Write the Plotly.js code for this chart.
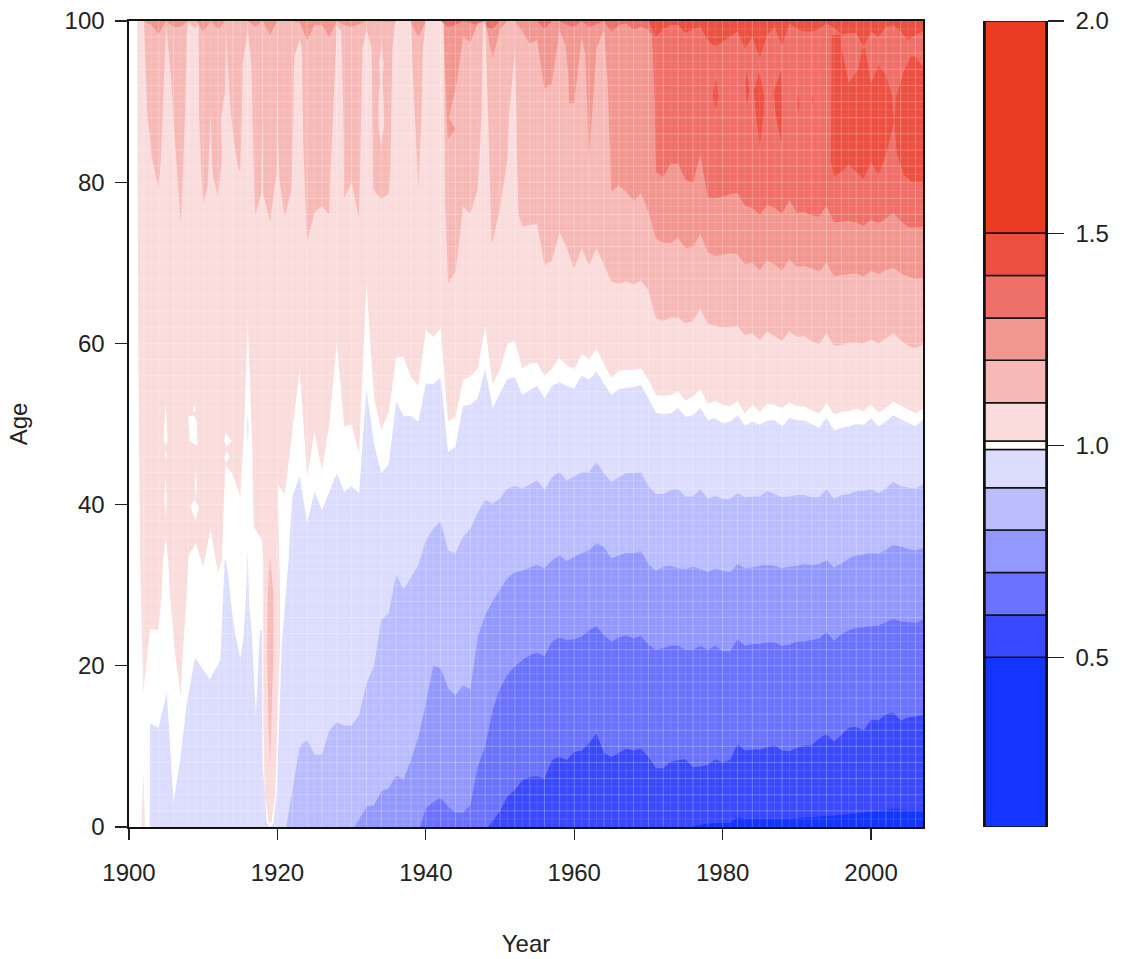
<!DOCTYPE html>
<html><head><meta charset="utf-8">
<script src="https://cdn.plot.ly/plotly-3.0.1.min.js"></script>
<style>html,body{margin:0;padding:0;background:#fff}#c{width:1127px;height:959px}</style></head>
<body><div id="c"></div>
<script>
// contour levels and fill colours (colour key)
const levels=[0.1,0.5,0.6,0.7,0.8,0.9,0.99,1.01,1.1,1.2,1.3,1.4,1.5,2.0];
const colours=['#1335FF','#3A48FF','#6A72FF','#9298FF','#B9BCFF','#DCDCFF','#FFFFFF','#FADCDC','#F6B9B6','#F29690','#EF7068','#EC5040','#EB3B20'];
const xTicks=[1900,1920,1940,1960,1980,2000];
const yTicks=[0,20,40,60,80,100];
const keyTicks=[0.5,1.0,1.5,2.0];

// contour lines: age where the ratio crosses each level
const l140Age=[98,99,99.5,99.5,98.5,99,99.3,97.6,96.8,97.4,98,98.7,96.6,98,95.4,98.3,99.3,97,99.7,99,98.7,98.7,99,99.7,99.2,98.3,98.5,98.5,96.8,98.7,98,99.3,99.5,98.7,97.6,98.3,98.7]; // 1971-2007

const l130EarlyX=[1942,1943,1944,1945,1949,1950,1955,1956,1957,1958,1959,1960,1961,1962,1963,1964,1965,1966,1967,1968,1969,1970,1970.5,1970.85];
const l130EarlyY=[100,99.3,99.5,100,99,100,100,99,100,100,99.5,99.3,100,99.3,99.6,100,98.7,99.5,99.7,98.9,99.3,98.9,98.3,90];
const l130Age=[81.3,80.6,82.3,82.3,80.3,79.9,83.4,78.1,78,78.2,78.5,78.7,77.1,76.8,76,77.2,76.8,76.1,77.8,76.2,76.3,75.9,75.7,77.1,75,75.1,75.2,75,74.6,75.3,74.9,75.5,76.2,75.2,74.4,74.4,74.5]; // 1971-2007

const l120EarlyX=[1900,1902,1903,1904,1905,1906,1907,1908,1909,1910,1911,1912,1913,1916,1917,1918,1919,1920,1922,1923,1924,1925,1926,1927,1928,1929,1930,1931,1932,1938,1939,1940,1942,1942.4,1942.9,1943,1944,1943.1,1944.2,1945,1946,1947,1948,1949,1950,1951,1952,1953,1954,1955,1956,1957,1958,1958.8,1959.2,1959.3,1960,1961,1961.5,1962,1963,1964,1964.5,1965,1966,1967,1968,1969,1970];
const l120EarlyY=[100,100,99.5,98.4,100,99.3,99.3,100,100,98.7,100,99,100,100,99.3,100,98.3,100,100,99.8,97.6,99.5,99.5,98,100,99.5,99.3,99.6,100,99.8,98,100,100,99.7,86,85.4,86.5,88,92.5,98,97.4,99.7,100,95.4,99,100,100,98.7,97.2,97.6,91.6,92.3,98.9,97,93.3,89.8,89.8,98,95.8,83,96.6,98.9,92.5,78.8,79.6,78.8,77.7,78.6,76.3];
const l120Age=[73,72.5,72.5,73.1,71.8,72,73.6,71.3,70.8,71,71.2,71.1,69.8,70,69.1,70.3,69.8,69.1,70.4,69.5,69.6,69.3,68.9,70.1,68.3,68.5,68.6,68.7,68.3,69,68.6,69.1,69.4,68.7,68.3,68,68.1]; // 1971-2007

const l110EarlyX=[1900,1902,1902.5,1902.8,1903,1904,1904.3,1904.5,1904.8,1905,1905.7,1906.1,1907,1907.2,1907.55,1907.8,1908,1909,1909.3,1909.4,1909.45,1909.7,1910,1910.6,1910.8,1911,1911.2,1911.4,1912,1912.5,1912.4,1912.95,1913.1,1913.15,1913.75,1914.4,1914.8,1915,1915.2,1915.3,1916,1916.5,1916.75,1917,1917.8,1918,1918.1,1919,1919.9,1920,1920.1,1920.3,1921,1921.9,1922.15,1922.25,1923,1923.3,1923.5,1924,1925,1926,1927,1927.1,1927.7,1928,1928.6,1928.9,1929,1930,1931,1931.2,1931.45,1932,1932.7,1932.9,1933,1934,1935,1935.2,1935.4,1935.5,1935.8,1936,1938,1938.3,1939,1939.4,1939.6,1940,1942,1942.4,1942.6,1942.8,1943,1944,1944.4,1945,1946,1947,1947.5,1947.7,1948,1948.4,1948.85,1949,1950,1951,1951.2,1952,1952.2,1952.3,1952.5,1953,1954,1955,1956,1957,1958,1959,1960,1961,1962,1963,1964,1965,1966,1967,1968,1969,1970];
const l110EarlyY=[100,100,88,86,83.5,79.2,83,88,93,99.5,92.5,86.3,74.7,80,88.3,98.7,99.8,99,100,99,88.3,82,77.4,79.6,85,88.5,82,80.5,78.2,83,88,91.2,99,96.6,88.3,83.4,81.5,81.5,88.3,94.5,98.9,94.5,84.2,75.9,78.5,88.7,78.5,75.1,81.3,99.7,85,80,75.7,79.2,88.3,95.4,97.8,96.6,84.2,72.6,76.3,77,76,80,92.5,99.5,98.7,88.3,78,80,75.5,84.2,96.6,99,96.6,79.2,79,77.9,78.6,81.3,92.5,96.6,99.7,100,100,92.5,79.2,88.3,96.6,100,100,99.7,78,71.8,67.5,68.9,71.8,77,76.1,79.2,88.3,99.5,99.7,88.3,72.6,72.6,76.8,82.9,88.3,96.2,89.2,82.1,75.9,74.5,74.7,74.8,69.7,70.3,73.8,71.8,69.3,71.8,69.7,71.8,69.7,67.7,67.4,67.7,67.3,67.8,66.6];
const l110Age=[63.1,62.8,63.2,63.2,62.5,62.8,64.3,62.4,62.2,62,62,62.2,61,61.3,60.4,61.5,60.9,60.3,61.5,60.8,60.9,60.3,59.9,61.3,59.7,59.8,60.1,60.1,60,60.5,60,60.6,61.3,60.4,59.7,59.4,59.9]; // 1971-2007

const l101EarlyX=[1900,1901.1,1901.25,1901.5,1901.93,1902.83,1903.95,1904.3,1904.6,1904.95,1905.3,1905.5,1906.2,1907,1907.2,1907.5,1907.8,1908,1909,1910,1911,1912,1912.5,1912.8,1913,1914,1915,1915.5,1916,1916.3,1916.6,1916.8,1917.9,1918.1,1918.1,1918.3,1918.8,1919,1919.2,1919.7,1920.03,1920.35,1920.35,1920.05];
const l101EarlyY=[100,100,60,33,16.7,24.6,24.4,27.7,33.1,36,33,29,21.6,16.2,21,24.5,29,33.6,35.2,32.3,37,31.5,33.1,40.6,44.9,43.7,41,49.3,62.5,55.5,47.2,37.3,35.6,33,12.5,4.2,0.7,0.5,0.5,4.2,12.5,22.8,29,42.4];
const l101Age=[41.3,49,56.7,43.5,49,44.3,50,60.2,49.7,49.9,46.4,67.5,53.4,49.3,51.5,58.2,58.4,55.8,54.7,61.7,60.8,61.9,50.3,50.9,55.5,55.9,56.9,62.1,55,56.7,60,60.3,56.9,57.5,57.6,56,56.9,58.2,57.3,56.8,58.7,58,59.3,57.5,55.7,56.6,56.7,56.7,56.9,55.5,53.6,53.5,53.6,54.1,52.9,53.4,54.3,52.5,52.9,52.4,52.2,52.9,51.3,52.4,51.5,52.5,52.4,52,52.7,52.2,52.2,51.7,51.3,52.6,51.2,51.5,51.6,51.9,51.6,52.4,51.4,52,52.8,52.3,51.8,51.3,51.9]; // 1921-2007

const l099EarlyX=[1900,1902.8,1902.81,1904,1905.1,1906,1906.9,1907.8,1908.9,1910.9,1912.3,1912.7,1912.9,1913.07,1913.4,1913.84,1914.3,1915,1915.4,1915.7,1916,1916.2,1916.5,1917.1,1917.65,1917.9,1918,1918.55,1919,1919.45,1919.9,1920.6,1921.5];
const l099EarlyY=[0,0,12.8,12.3,16.7,3,8.3,15.4,21,18.3,20.7,29,33.1,33.1,31,27,24,21,23.2,27.3,34.4,27.3,24.8,13.7,24.4,24.4,8.3,0.6,0,0.4,4.2,22.8,33.1];
const l099Age=[41,43.5,37.7,41.6,39.3,41.5,43.9,41.6,42.3,41.4,54.4,47.6,43.9,45,52.8,51,51,50.3,55,55,55.7,46.5,47.2,52.2,52.4,53.2,56.9,52,53.8,55.6,55.8,53.6,54.2,54.7,53.2,54.7,55.2,54.7,54.4,56,55.5,56.5,55,53.6,54.3,54.5,54.6,54.8,53.2,51.4,51.2,51.3,52,50.9,51.1,52,50.5,50.7,50.1,50.3,51.1,49.8,50.3,49.9,50.4,50.5,49.7,50.7,50.5,50.4,50,49.5,50.8,49.2,49.5,49.7,50,49.9,50.7,49.7,50.3,51.1,50.6,50.2,49.7,50.6]; // 1922-2007

const l090Start=1921.2;
const l090Age=[4.5,10,10.8,9,9,12,13,12.6,12.6,13.9,17.8,19.9,25.7,26.5,31.3,29.5,31,32.5,35.5,37,37.9,34.3,34,36,37,39,40.6,40.1,40.8,42,42.3,42,42.5,43,41.8,43.4,44,43,43.5,44,44,45.3,43.9,42.8,43.4,43.9,43.9,44,42.3,41.3,41.3,41.8,41.9,41,41,41.9,40.7,41.1,40.7,40.7,41.4,40.9,41,41,41.7,41.3,40.9,41,41.2,41.2,40.9,40.9,41.9,40.7,41.2,41.3,41.7,41.7,41.9,41.4,42,42.8,42.3,42.1,42,42.5]; // 1922-2007

const l080Start=1930.4;
const l080Age=[1,2.5,2.7,4.4,4.8,6.4,5.9,8.3,11.2,15.3,20,19.7,17.2,16.3,17.6,17.1,23.6,26.3,28,29.4,30.9,31.6,31.8,32.2,32.5,32.1,33.1,33.7,33,33.5,34,34.3,35.2,34.7,33.3,33.7,34,34,34.2,32.6,31.8,32.3,32.4,32.1,32,32.3,32,31.6,32.1,31.8,31.6,32.6,32.1,32.2,32.4,32.5,32.4,32.1,32.3,32.4,32.6,32.5,32.6,33.1,32.2,32.7,33.3,33.7,33.8,34,33.9,34.4,35,34.8,34.5,34.3,34.6]; // 1931-2007

const l070Start=1939.2;
const l070Age=[2.3,3.1,3.6,2.5,1.8,1.8,2.7,7.5,10,14.5,17.2,18.9,19.9,20.7,21.3,21.6,21.2,23,23.5,23.2,23.3,23.6,24.4,24.9,23.8,23,23.5,23.8,23.4,23.7,22.6,22,22.2,22.5,22.5,22,22,22.5,22,22.5,21.8,21.8,23.3,22.5,22.7,22.7,22.9,22.9,22.5,22.6,23,23,23.2,23.4,24.2,23.1,23.9,24.4,24.7,24.8,24.9,25,25.4,25.8,25.5,25.4,25.3,25.7]; // 1940-2007

const l060Start=1948.4;
const l060Age=[0.8,2,3.8,4.6,5.8,6.2,6.3,6,8.3,8.7,8.3,9.3,9.5,10.4,11.6,9.2,8.7,9.2,9.7,9.5,9.7,8.7,7.3,7.3,8.1,8.3,8.4,7.4,7.5,7.7,8.4,8,8.3,10.3,9.5,9.6,9.6,9.9,10.1,9.5,9.4,9.8,10.1,10.1,11,11.5,10.6,11.4,12.3,12.4,12,13.3,13.2,14,14.2,13.2,13.6,13.7,13.9]; // 1949-2007

const l050Age=[0.05,0.3,0.4,0.5,0.5,0.5,1.2,1,1,1,1,1,1,1,1.1,1.2,1.2,1.3,1.4,1.4,1.5,1.6,1.7,1.8,1.9,2,2.1,2.3,2.2,2.1,2.1,2.1]; // 1976-2007

// closed contours (islands): [years, ages]
const islands140=[
 [[1994.7,1996,1996,1996.3,1997,1998.3,1998.8,1999.2,2000,2001,2002,2002.8,2003.15,2002.8,2002,2001,2000,1999,1998,1997,1996,1995,1994.6],
  [98.3,98.3,97,95.4,92.3,94.1,96.6,96.6,92.3,94.5,93.3,90.8,87.5,86.3,83.4,80.9,82.5,80.4,81.3,82.2,81.3,80.7,82.5]],
 [[2003.3,2004.4,2005.3,2006,2007,2007,2005.5,2004.4,2003.5,2003.2],[90.4,93.7,95.6,95.6,94.3,80,80,80.9,83.4,87]],
 [[1979.07,1979.4,1979.07,1978.7],[92.9,90.8,89,90.8]],
 [[1983.25,1983.6,1983.3,1983.1],[93.9,91.4,89.6,92]],
 [[1984.9,1985.6,1985.5,1985,1984.6,1984.2],[93.7,90.8,88.3,84.4,87.5,91.2]],
 [[1987.9,1988.05,1987.9,1987.1,1986.85],[93.9,89.2,84.8,88.7,91.2]],
 [[1990.2,1990.35,1990.2,1990.05],[91,89.8,88.5,89.8]],
 [[1992.1,1992.2,1992.1,1992],[90.6,90.2,89.8,90.2]]
];
const islands110=[[[1934.05,1934.3,1934.15,1934.3,1934.4,1933.96,1933.6,1933.6,1933.83,1933.7],[97,94.9,92.5,90.4,87.1,84.4,87.1,90.4,92.5,94.9]]];
const islands120inner=[[[1919,1919.45,1919.45,1919.2,1919,1918.8,1918.65,1918.7],[33.7,29,21,12.5,7.5,12.5,21,29]]];
const islands101=[
 [[1904.94,1905.2,1904.94,1904.67],[52.6,48,47.2,48]],
 [[1904.94,1905.08,1904.94,1904.8],[46.8,46.2,45.5,46.2]],
 [[1904.94,1905.1,1904.94,1904.76],[43.5,40.6,38.5,40.6]],
 [[1908.8,1909,1908.8,1908.6],[52.4,51.8,51.3,51.8]],
 [[1908.67,1909.1,1909.25,1908.2,1908],[51.1,50.5,47.3,47.9,50.9]],
 [[1909,1909.13,1909,1908.87],[44.7,42.6,40.6,42.6]],
 [[1908.8,1909.43,1909,1908.27],[40.6,39.7,38.1,39.7]],
 [[1912.94,1913.84,1913.16,1912.85],[49,47.9,47.2,47.9]],
 [[1913.16,1913.6,1913.03,1912.85],[46.6,45.9,45.1,45.9]]
];
const islands099=[[[1916,1916.12,1916,1915.88],[51.3,49.4,47.6,49.4]]];
const islandsPale=[[[1901.7,1901.93,1902.15],[0,7,0]]];

const c=Object.fromEntries(levels.slice(0,-1).map((l,i)=>[l,colours[i]]));
const seq=(start,arr)=>arr.map((_,i)=>start+i);
const area=(x,y,col)=>({type:'scatter',mode:'lines',x,y,fill:'tozeroy',fillcolor:col,line:{width:0},hoverinfo:'skip',showlegend:false,xaxis:'x',yaxis:'y'});
const poly=(p,col)=>({type:'scatter',mode:'lines',x:p[0],y:p[1],fill:'toself',fillcolor:col,line:{width:0},hoverinfo:'skip',showlegend:false,xaxis:'x',yaxis:'y'});

const traces=[];
traces.push(area([1900,2007],[100,100],c[1.4]));
traces.push(area([1900,1970].concat(seq(1971,l140Age)),[100,100].concat(l140Age),c[1.3]));
islands140.forEach(p=>traces.push(poly(p,c[1.4])));
traces.push(area([1900].concat(l130EarlyX,seq(1971,l130Age)),[100].concat(l130EarlyY,l130Age),c[1.2]));
traces.push(area(l120EarlyX.concat(seq(1971,l120Age)),l120EarlyY.concat(l120Age),c[1.1]));
traces.push(area(l110EarlyX.concat(seq(1971,l110Age)),l110EarlyY.concat(l110Age),c[1.01]));
islands110.forEach(p=>traces.push(poly(p,c[1.01])));
traces.push(area(l101EarlyX.concat(seq(1921,l101Age)),l101EarlyY.concat(l101Age),c[0.99]));
islands101.forEach(p=>traces.push(poly(p,c[0.99])));
islandsPale.forEach(p=>traces.push(poly(p,c[1.01])));
islands120inner.forEach(p=>traces.push(poly(p,c[1.1])));
traces.push(area(l099EarlyX.concat(seq(1922,l099Age)),l099EarlyY.concat(l099Age),c[0.9]));
islands099.forEach(p=>traces.push(poly(p,c[0.9])));
traces.push(area([l090Start].concat(seq(1922,l090Age)),[0].concat(l090Age),c[0.8]));
traces.push(area([l080Start].concat(seq(1931,l080Age)),[0].concat(l080Age),c[0.7]));
traces.push(area([l070Start].concat(seq(1940,l070Age)),[0].concat(l070Age),c[0.6]));
traces.push(area([l060Start].concat(seq(1949,l060Age)),[0].concat(l060Age),c[0.5]));
traces.push(area(seq(1976,l050Age),l050Age,c[0.1]));

// faint cell seams of the filled contour: every second seam reads stronger
const seams=(step,offset,col)=>{
  const gx=[],gy=[];
  for(let yr=1901+offset;yr<2007;yr+=step){gx.push(yr,yr,null);gy.push(0,100,null);}
  for(let a=1+offset;a<100;a+=step){gx.push(1901,2007,null);gy.push(a,a,null);}
  return {type:'scatter',mode:'lines',x:gx,y:gy,line:{color:col,width:1},hoverinfo:'skip',showlegend:false,xaxis:'x',yaxis:'y'};
};
traces.push(seams(2,0,'rgba(255,255,255,0.12)'));
traces.push(seams(2,1,'rgba(255,255,255,0.27)'));

// colour key
traces.push({type:'bar',x:colours.map(()=>0),base:levels.slice(0,-1),y:levels.slice(1).map((l,i)=>l-levels[i]),width:1,
 marker:{color:colours,line:{color:'#111',width:1.5}},hoverinfo:'skip',showlegend:false,xaxis:'x2',yaxis:'y2'});

const font={family:'"Liberation Sans",Arial,sans-serif',size:24,color:'#222'};
const W=1127,H=959;
const axisBase={showgrid:false,zeroline:false,showline:true,mirror:true,linecolor:'#111',linewidth:1.6,ticks:'outside',tickcolor:'#222',tickwidth:1.2,tickfont:font,automargin:false};
const layout={width:W,height:H,margin:{l:0,r:0,t:0,b:0},paper_bgcolor:'#fff',plot_bgcolor:'#fff',showlegend:false,barmode:'overlay',
 xaxis:Object.assign({},axisBase,{domain:[129/W,923/W],range:[1900,2007],tickmode:'array',tickvals:xTicks,ticktext:xTicks.map(String),ticklen:11,ticklabelstandoff:13,
   title:{text:'Year',font:font,standoff:50},anchor:'y'}),
 yaxis:Object.assign({},axisBase,{domain:[1-827/H,1-21/H],range:[0,100],tickmode:'array',tickvals:yTicks,ticktext:yTicks.map(String),ticklen:12,ticklabelstandoff:6,
   title:{text:'Age',font:font,standoff:30},anchor:'x'}),
 xaxis2:{domain:[985/W,1046/W],range:[-0.5,0.5],showticklabels:false,ticks:'',showgrid:false,zeroline:false,anchor:'y2',fixedrange:true},
 yaxis2:Object.assign({},axisBase,{domain:[1-827/H,1-21/H],range:[0.1,2.0],side:'right',anchor:'x2',tickmode:'array',tickvals:keyTicks,ticktext:keyTicks.map(v=>v.toFixed(1)),ticklen:16,ticklabelstandoff:7,mirror:true})
};
Plotly.newPlot('c',traces,layout,{staticPlot:true,displayModeBar:false});
</script></body></html>
